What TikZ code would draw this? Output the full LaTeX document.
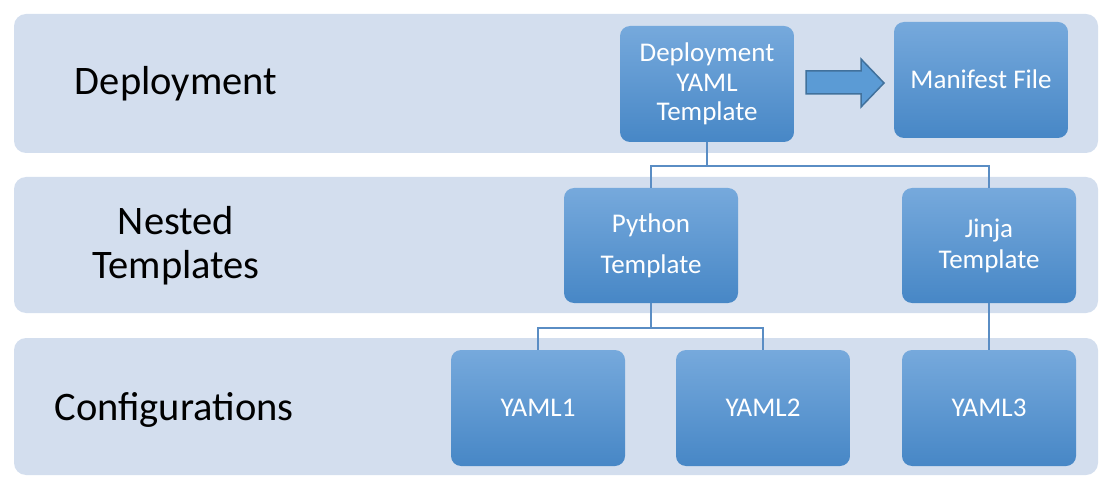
\documentclass[tikz,border=0pt]{standalone}
\usepackage{fontspec}
\setmainfont{Carlito}
\definecolor{bandfill}{HTML}{D3DEEE}
\definecolor{boxtop}{HTML}{76A9DC}
\definecolor{boxbot}{HTML}{4787C6}
\definecolor{connc}{HTML}{5A8DC4}
\definecolor{arrfill}{HTML}{5B9BD5}
\definecolor{arrdraw}{HTML}{41719C}
\begin{document}
\begin{tikzpicture}[x=1pt,y=-1pt,
  band/.style={fill=bandfill,rounded corners=12pt},
  bluebox/.style={rounded corners=10pt,top color=boxtop,bottom color=boxbot,
     minimum width=174pt,minimum height=116pt,inner sep=0pt,text=white,
     align=center,font=\fontsize{27}{29.5}\selectfont},
  lbl/.style={font=\fontsize{40.5}{44}\selectfont,text=black,align=center,inner sep=0pt},
  conn/.style={draw=connc,line width=2pt}]
\useasboundingbox (0,0) rectangle (1108,486);
% bands
\path[band] (14,14) rectangle (1098,153);
\path[band] (14,177) rectangle (1098,313);
\path[band] (14,338) rectangle (1098,475);
% labels
\node[lbl,anchor=base] (l1) at (176,95) {Deployment};
\node[lbl,anchor=base] (l2) at (176,279) {Nested\\Templates};
\node[lbl,anchor=base] (l3) at (174,420) {Configurations};
% boxes
\node[bluebox] (dyt) at (707,84) {Deployment\\YAML\\Template};
\node[bluebox] (man) at (981,80) {\raisebox{2.5pt}{Manifest File}};
\node[bluebox,minimum height=115pt,font=\fontsize{27}{41}\selectfont] (py) at (651,245.5) {Python\\Template};
\node[bluebox,minimum height=115pt,font=\fontsize{27}{31}\selectfont] (jin) at (989,245.5) {Jinja\\Template};
\node[bluebox] (y1) at (538,408) {YAML1};
\node[bluebox] (y2) at (763,408) {YAML2};
\node[bluebox] (y3) at (989,408) {YAML3};
% block arrow
\draw[fill=arrfill,draw=arrdraw,line width=1.5pt,line join=miter]
  (806,71) -- (861,71) -- (861,59) -- (884,83) -- (861,107) -- (861,94) -- (806,94) -- cycle;
% connectors
\draw[conn] (dyt.south) -- ++(0,24) coordinate (j1) -| (py.north);
\draw[conn] (j1) -| (jin.north);
\draw[conn] (py.south) -- ++(0,25) coordinate (j2) -| (y1.north);
\draw[conn] (j2) -| (y2.north);
\draw[conn] (jin.south) -- (y3.north);
\end{tikzpicture}
\end{document}
